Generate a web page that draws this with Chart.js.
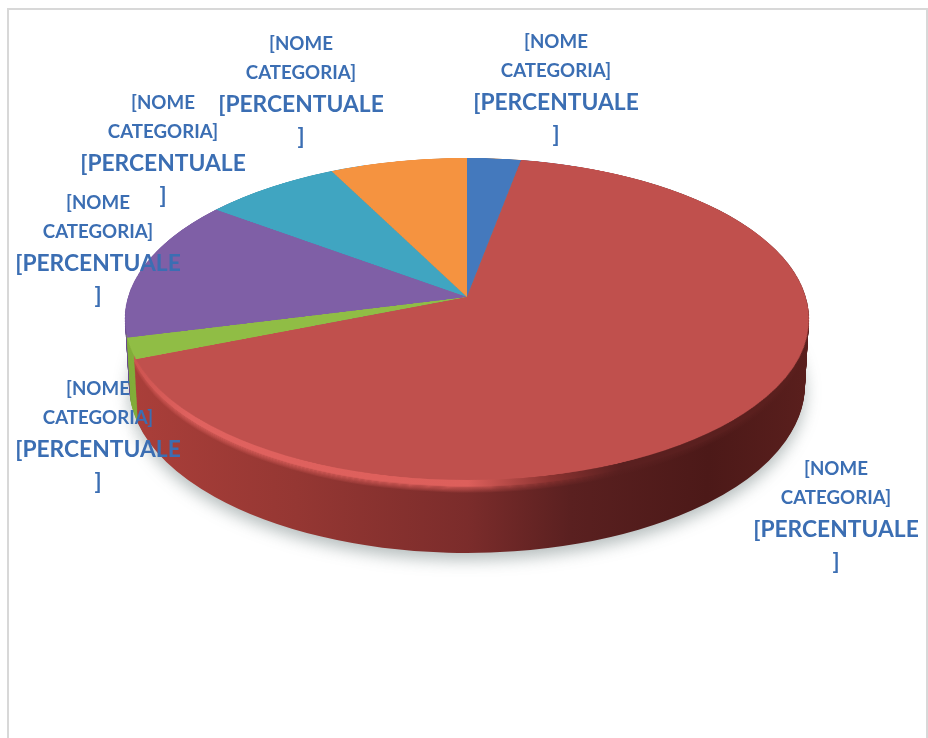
<!DOCTYPE html>
<html>
<head>
<meta charset="utf-8">
<script src="https://cdn.jsdelivr.net/npm/chart.js@4"></script>
<style>
    html, body { margin: 0; padding: 0; background: #fff; overflow: hidden; }
    #stage { position: relative; width: 928px; height: 738px; overflow: hidden; }
    #frame { position: absolute; left: 7px; top: 8px; width: 917px; height: 740px; border: 2px solid #d8d8d8; }
    canvas { position: absolute; }
    .lbl { position: absolute; width: 200px; text-align: center; color: #3b6eb3; font-family: Lato, sans-serif; font-weight: 700; }
    .lbl div { position: absolute; left: 0; width: 100%; transform: translateY(-50%); white-space: nowrap; }
    .small { font-size: 18.7px; }
    .big { font-size: 22.8px; }
</style>
</head>
<body>
<div id="stage">
    <div id="frame"></div>
    <canvas id="sideChart"></canvas>
    <canvas id="topChart"></canvas>
</div>
<script>
const categories = ['Blu', 'Rosso', 'Verde', 'Viola', 'Azzurro', 'Arancione'];
const shares = [2.9, 66, 2.1, 14.2, 7.4, 7.4];
const topColors = ['#4479bd', '#c0504d', '#90bd45', '#7f5fa6', '#40a5c1', '#f59340'];
const sideColors = ['#2f5687', null, '#82ad3a', '#6a4c8e', '#31809a', '#b86d2d'];

const nameLines = ['[NOME', 'CATEGORIA]'];
const valueLines = ['[PERCENTUALE', ']'];
const labelX = [556, 836, 98, 98, 163, 301];
const labelY = [41, 468, 388, 202, 102, 43];

// apex of the pie and shape of the tilted top face
const apexX = 467, apexY = 297;
const faceRadius = 400;
const persp = -0.1366, scaleYTop = 158, scaleXTop = 338.8;
const rimRx = 342, rimRy = 161, rimCenterY = 319;
const baseRx = 338, baseRy = 168, baseCenterY = 385;
const wallSteps = 70, lipSteps = 6, lipFade = 6;

const stage = document.getElementById('stage');

// top face: plain pie, tilted with a css perspective matrix
const topCanvas = document.getElementById('topChart');
topCanvas.width = faceRadius * 2;
topCanvas.height = faceRadius * 2;
topCanvas.style.left = (apexX - faceRadius) + 'px';
topCanvas.style.top = (apexY - faceRadius) + 'px';
topCanvas.style.transformOrigin = '50% 50%';

new Chart(topCanvas, {
    type: 'pie',
    data: {
        labels: categories,
        datasets: [{ data: shares, backgroundColor: topColors, borderWidth: 0 }]
    },
    options: {
        responsive: false,
        animation: false,
        layout: { padding: 0 },
        plugins: { legend: { display: false }, tooltip: { enabled: false } }
    }
});
topCanvas.style.transform = `matrix3d(${scaleXTop / faceRadius},0,0,0, 0,${scaleYTop / faceRadius},0,${persp / faceRadius}, 0,0,1,0, 0,0,0,1)`;

// side wall: the same slices drawn again and again, shifted down
function sideGradient(ctx) {
    const g = ctx.createLinearGradient(120, 0, 810, 0);
    g.addColorStop(0, '#ab3f3a');
    g.addColorStop(0.25, '#953733');
    g.addColorStop(0.5, '#7b2c2b');
    g.addColorStop(0.65, '#5a2020');
    g.addColorStop(0.85, '#4c1918');
    g.addColorStop(1, '#5a1f1d');
    return g;
}

function lipGradient(ctx) {
    const g = ctx.createLinearGradient(120, 0, 810, 0);
    g.addColorStop(0, '#c9514d');
    g.addColorStop(0.1, '#e0625f');
    g.addColorStop(0.5, '#dd5f5b');
    g.addColorStop(0.62, '#8a3230');
    g.addColorStop(0.72, '#5a2020');
    g.addColorStop(1, '#5a1f1d');
    return g;
}

const wallPlugin = {
    id: 'wall',
    beforeDatasetsDraw(chart) {
        const ctx = chart.ctx;
        const arcs = chart.getDatasetMeta(0).data;
        const cx = arcs[0].x, cy = arcs[0].y;
        const lip = lipGradient(ctx);
        const wall = sideGradient(ctx);
        for (let step = wallSteps; step >= 0; step--) {
            const t = step / wallSteps;
            const rx = rimRx + (baseRx - rimRx) * t;
            const ry = rimRy + (baseRy - rimRy) * t;
            const y = rimCenterY + (baseCenterY - rimCenterY) * t;
            arcs.forEach((arc, i) => {
                let fills = [[i === 1 ? wall : sideColors[i], 1]];
                if (i === 1 && step <= lipSteps) fills = [[lip, 1]];
                else if (i === 1 && step <= lipSteps + lipFade) {
                    fills.push([lip, 1 - (step - lipSteps) / (lipFade + 1)]);
                }
                fills.forEach(f => {
                    ctx.save();
                    if (step === wallSteps) {
                        ctx.shadowColor = 'rgba(70,90,90,0.4)';
                        ctx.shadowBlur = 16;
                        ctx.shadowOffsetY = 7;
                    }
                    ctx.globalAlpha = f[1];
                    ctx.translate(apexX, y);
                    ctx.scale(rx / rimRx, ry / rimRx);
                    ctx.translate(-cx, -cy);
                    arc.options = { ...arc.options, backgroundColor: f[0] };
                    arc.draw(ctx);
                    ctx.restore();
                });
            });
        }
        return false;
    }
};

const sideCanvas = document.getElementById('sideChart');
sideCanvas.width = 928;
sideCanvas.height = 738;
sideCanvas.style.left = '0px';
sideCanvas.style.top = '0px';

new Chart(sideCanvas, {
    type: 'pie',
    data: {
        labels: categories,
        datasets: [{ data: shares, backgroundColor: sideColors.map(c => c || '#7b2c2b'), borderWidth: 0 }]
    },
    options: {
        responsive: false,
        animation: false,
        rotation: 9,
        radius: rimRx,
        layout: { padding: 0 },
        plugins: { legend: { display: false }, tooltip: { enabled: false } }
    },
    plugins: [wallPlugin]
});

// data labels as text on top of everything
categories.forEach((name, i) => {
    const box = document.createElement('div');
    box.className = 'lbl';
    box.style.left = (labelX[i] - 100) + 'px';
    box.style.top = labelY[i] + 'px';
    const rows = [
        [nameLines[0], 'small', 0],
        [nameLines[1], 'small', 29],
        [valueLines[0], 'big', 60],
        [valueLines[1], 'big', 92]
    ];
    rows.forEach(r => {
        const line = document.createElement('div');
        line.textContent = r[0];
        line.className = r[1];
        line.style.top = r[2] + 'px';
        box.appendChild(line);
    });
    stage.appendChild(box);
});
</script>
</body>
</html>
